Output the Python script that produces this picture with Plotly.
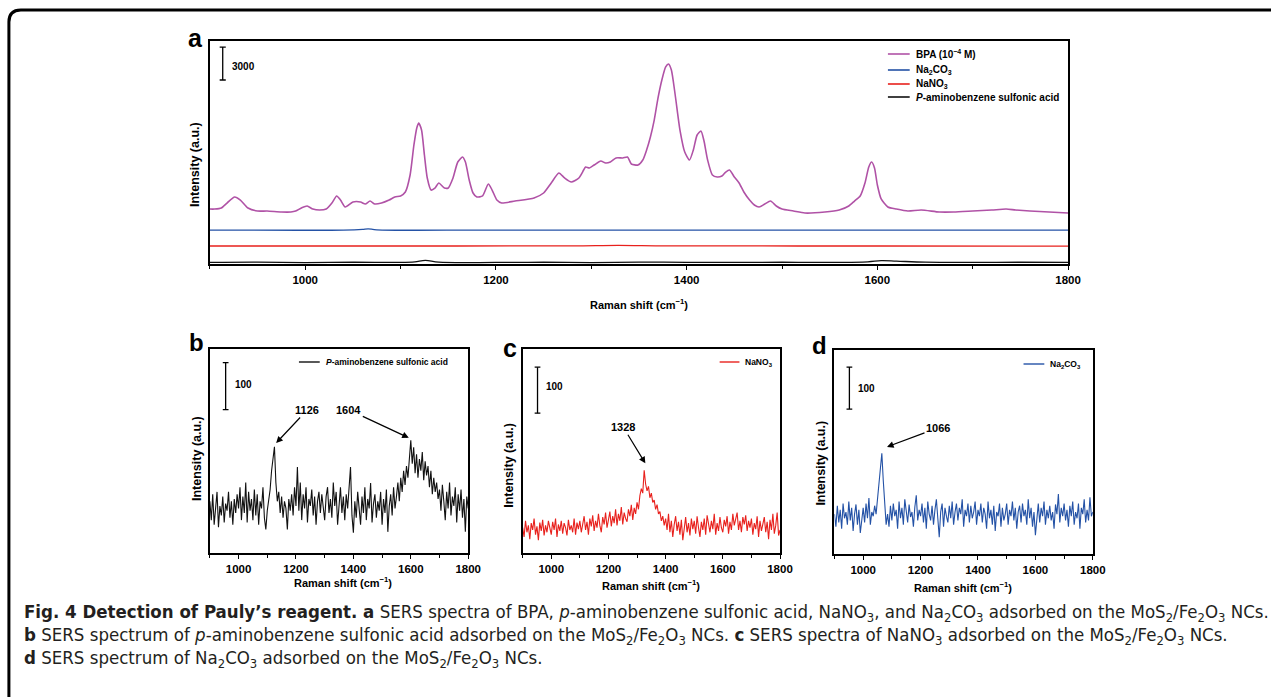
import plotly.graph_objects as go

W, H = 1284, 697

# ---------------- data ----------------
# Panel a (intensity, a.u.)
bpa_x = [900, 905, 912, 918, 926, 932, 940, 950, 960, 975, 985, 990, 996, 1002, 1008, 1015, 1022, 1028,
         1033, 1037, 1042, 1050, 1058, 1063, 1068, 1073, 1080, 1088, 1094, 1100, 1105, 1110, 1114, 1117,
         1119, 1122, 1125, 1128, 1132, 1136, 1140, 1146, 1150, 1155, 1160, 1165, 1168, 1172, 1176, 1180,
         1186, 1192, 1196, 1201, 1206, 1220, 1240, 1250, 1258, 1266, 1272, 1279, 1287, 1292, 1294, 1298,
         1303, 1310, 1315, 1320, 1326, 1333, 1338, 1342, 1349, 1354, 1358, 1362, 1366, 1370, 1374, 1378,
         1381, 1384, 1388, 1393, 1398, 1403, 1407, 1411, 1415, 1418, 1422, 1427, 1432, 1437, 1441, 1445,
         1450, 1455, 1460, 1466, 1471, 1476, 1482, 1488, 1494, 1500, 1512, 1524, 1545, 1560, 1570, 1576,
         1582, 1587, 1591, 1594, 1597, 1600, 1604, 1611, 1620, 1632, 1646, 1665, 1680, 1700, 1720, 1735,
         1745, 1760, 1780, 1800]
bpa_y = [5000, 5000, 5100, 5550, 6100, 5820, 5100, 4820, 4820, 4730, 4730, 4820, 5100, 5280, 5000, 4910, 5000, 5550,
         6190, 5820, 5190, 5640, 5640, 5460, 5730, 5460, 5550, 5820, 6100, 6190, 6550, 8100, 10830, 12380,
         12830, 12190, 9920, 7830, 6730, 6900, 7370, 6920, 6920, 7830, 9280, 9740, 9280, 7640, 6460, 6100,
         6190, 7280, 6730, 5820, 5550, 5730, 6010, 6460, 7370, 8280, 7830, 7460, 7830, 8550, 8830, 8740,
         9010, 9370, 9190, 9280, 9650, 9650, 9740, 9100, 9010, 9460, 10370, 11560, 13100, 15110, 16740, 17930,
         18200, 17650, 15380, 12190, 10190, 9460, 10370, 11740, 12100, 11280, 9460, 8100, 7920, 8010, 8370, 8550,
         7920, 7370, 6550, 5820, 5370, 5190, 5460, 5730, 5280, 5000, 4820, 4640, 4730, 4910, 5280, 5730,
         6190, 7370, 8830, 9280, 8740, 7190, 5920, 5190, 5000, 4820, 4910, 4730, 4730, 4820, 4910, 5000,
         4910, 4820, 4730, 4640]

na2co3_a_x = [900, 1040, 1060, 1066, 1075, 1200, 1500, 1800]
na2co3_a_y = [3090, 3090, 3150, 3200, 3110, 3090, 3090, 3080]
nano3_a_x = [900, 1100, 1280, 1328, 1380, 1600, 1800]
nano3_a_y = [1640, 1640, 1650, 1700, 1650, 1640, 1630]
pabsa_a_x = [900, 950, 1000, 1050, 1100, 1115, 1126, 1140, 1200, 1250, 1300, 1350, 1400, 1450, 1500,
             1550, 1590, 1604, 1620, 1650, 1700, 1750, 1800]
pabsa_a_y = [150, 170, 130, 160, 150, 200, 330, 170, 140, 160, 130, 170, 150, 140, 160,
             150, 200, 300, 260, 170, 150, 160, 140]

# Panels b-d: sampled every 5 cm-1 from 900 to 1800
shift = list(range(900, 1805, 5))
pabsa_y = [110, 70, 125, 60, 95, 130, 55, 100, 80, 120, 65, 105, 90, 130, 75, 110, 60, 115, 85, 125,
           95, 140, 70, 120, 85, 150, 65, 130, 90, 115, 70, 135, 80, 125, 60, 110, 95, 140, 75, 50,
           90, 110, 135, 175, 205, 226, 150, 110, 130, 85, 120, 75, 110, 95, 50, 115, 90, 125, 80, 140,
           100, 183, 90, 150, 70, 125, 95, 140, 65, 115, 100, 135, 80, 120, 60, 110, 130, 85, 125, 95,
           70, 120, 140, 85, 115, 75, 150, 100, 130, 60, 110, 140, 85, 120, 70, 125, 95, 145, 183, 80,
           43, 110, 75, 130, 90, 60, 120, 85, 140, 70, 115, 95, 149, 65, 105, 125, 75, 110, 90, 130,
           60, 115, 85, 135, 45, 100, 125, 80, 140, 95, 120, 150, 110, 160, 130, 175, 145, 185, 160, 200,
           240, 190, 225, 170, 210, 160, 200, 175, 215, 155, 195, 165, 185, 140, 175, 125, 160, 130, 150, 115,
           135, 90, 145, 110, 70, 130, 95, 150, 80, 120, 100, 140, 65, 125, 90, 135, 75, 115, 45, 120,
           95]
nano3_y = [55, 35, 70, 45, 60, 30, 65, 50, 75, 40, 58, 28, 66, 48, 72, 38, 60, 45, 70, 52,
           40, 68, 50, 75, 35, 62, 48, 70, 42, 65, 55, 38, 72, 50, 60, 45, 75, 40, 66, 52,
           70, 45, 62, 80, 50, 68, 40, 75, 58, 82, 48, 70, 55, 85, 60, 45, 78, 62, 88, 55,
           72, 90, 58, 80, 65, 95, 60, 85, 70, 100, 62, 88, 75, 68, 95, 80, 105, 72, 98, 85,
           110, 95, 125, 140, 130, 180, 150, 135, 145, 120, 130, 110, 115, 95, 105, 85, 90, 70, 80, 60,
           75, 50, 85, 45, 70, 35, 62, 80, 48, 68, 40, 72, 28, 60, 78, 45, 65, 38, 75, 52,
           70, 42, 80, 55, 35, 68, 50, 75, 40, 82, 58, 45, 70, 52, 85, 40, 65, 48, 78, 55,
           45, 72, 58, 80, 42, 68, 50, 85, 60, 75, 88, 50, 70, 45, 78, 62, 82, 48, 70, 55,
           75, 40, 65, 52, 80, 35, 70, 48, 62, 78, 45, 68, 30, 72, 50, 85, 42, 60, 88, 38,
           50]
na2co3_y = [95, 65, 115, 75, 105, 60, 120, 85, 100, 70, 125, 80, 110, 55, 95, 118, 70, 105, 50, 90,
            110, 75, 120, 85, 133, 70, 100, 90, 115, 95, 135, 160, 195, 240, 175, 110, 70, 95, 65, 115,
            80, 120, 90, 105, 60, 125, 85, 110, 70, 130, 95, 75, 118, 88, 100, 65, 112, 140, 80, 105,
            90, 120, 75, 110, 60, 125, 95, 80, 115, 70, 105, 130, 85, 40, 100, 120, 65, 110, 90, 75,
            115, 85, 125, 70, 100, 120, 80, 110, 95, 130, 65, 105, 90, 120, 75, 115, 85, 100, 125, 70,
            105, 90, 120, 75, 110, 95, 60, 125, 85, 105, 70, 115, 55, 100, 90, 120, 65, 110, 80, 95,
            120, 70, 105, 90, 125, 80, 110, 60, 100, 115, 75, 120, 90, 105, 70, 130, 85, 110, 65, 100,
            45, 95, 120, 75, 110, 90, 125, 70, 105, 85, 115, 80, 100, 60, 118, 95, 143, 75, 110, 90,
            120, 80, 105, 65, 115, 90, 125, 70, 100, 85, 120, 60, 110, 95, 130, 75, 105, 80, 135, 90,
            100]

x_ticks = [1000, 1200, 1400, 1600, 1800]

PURPLE = "#B052A6"
BLUE = "#2452A6"
RED = "#E8211D"
BLACK = "#111111"

# ---------------- helpers (layout geometry) ----------------
def px(p):
    return p / W

def py(p):
    return 1 - p / H

fig = go.Figure()

# Panel a
fig.add_trace(go.Scatter(x=bpa_x, y=bpa_y, mode="lines", line=dict(color=PURPLE, width=1.6, shape="spline", smoothing=0.6),
                         xaxis="x", yaxis="y", showlegend=False))
fig.add_trace(go.Scatter(x=na2co3_a_x, y=na2co3_a_y, mode="lines", line=dict(color=BLUE, width=1.3, shape="spline"),
                         xaxis="x", yaxis="y", showlegend=False))
fig.add_trace(go.Scatter(x=nano3_a_x, y=nano3_a_y, mode="lines", line=dict(color=RED, width=1.3, shape="spline"),
                         xaxis="x", yaxis="y", showlegend=False))
fig.add_trace(go.Scatter(x=pabsa_a_x, y=pabsa_a_y, mode="lines", line=dict(color=BLACK, width=1.3, shape="spline"),
                         xaxis="x", yaxis="y", showlegend=False))
# Panels b, c, d
fig.add_trace(go.Scatter(x=shift, y=pabsa_y, mode="lines", line=dict(color=BLACK, width=1.1),
                         xaxis="x2", yaxis="y2", showlegend=False))
fig.add_trace(go.Scatter(x=shift, y=nano3_y, mode="lines", line=dict(color=RED, width=1.1),
                         xaxis="x3", yaxis="y3", showlegend=False))
fig.add_trace(go.Scatter(x=shift, y=na2co3_y, mode="lines", line=dict(color=BLUE, width=1.1),
                         xaxis="x4", yaxis="y4", showlegend=False))

tickfont = dict(family="Liberation Sans, Arial, sans-serif", size=11.5, color="black")

def xax(dom, anchor):
    return dict(domain=dom, anchor=anchor, range=[900, 1800], showline=True, mirror=True,
                linecolor="black", linewidth=1.5, ticks="outside", ticklen=4, tickwidth=1.2,
                tickcolor="black", tickvals=x_ticks, ticktext=[f"<b>{t}</b>" for t in x_ticks],
                tickfont=tickfont, showgrid=False, zeroline=False,
                minor=dict(dtick=100, tick0=900, ticks="outside", ticklen=3, tickcolor="black", tickwidth=1.2))

def yax(dom, anchor, top):
    return dict(domain=dom, anchor=anchor, range=[0, top], showline=True, mirror=True,
                linecolor="black", linewidth=1.5, ticks="", showticklabels=False,
                showgrid=False, zeroline=False)

fig.update_layout(
    width=W, height=H, margin=dict(l=0, r=0, t=0, b=0),
    paper_bgcolor="white", plot_bgcolor="white",
    xaxis=xax([px(212), px(1079)], "y"),
    yaxis=yax([py(264), py(41)], "x", 223 * 91),
    xaxis2=xax([px(212), px(473)], "y2"),
    yaxis2=yax([py(553), py(349)], "x2", 204 * 100 / 47),
    xaxis3=xax([px(528), px(788)], "y3"),
    yaxis3=yax([py(553), py(349)], "x3", 204 * 100 / 46),
    xaxis4=xax([px(843), px(1104)], "y4"),
    yaxis4=yax([py(554), py(350)], "x4", 204 * 100 / 42),
)

ann = []
shapes = []
bold = dict(family="Liberation Sans, Arial, sans-serif", color="black")

def text(x, y, s, size, xanchor="center", angle=0, xref="paper", yref="paper", font=None):
    f = dict(bold) if font is None else dict(font)
    f["size"] = size
    ann.append(dict(x=x, y=y, xref=xref, yref=yref, text=s, showarrow=False, xanchor=xanchor,
                    yanchor="middle", textangle=angle, font=f))

# Panel letters
text(px(197), py(38), "<b>a</b>", 25)
text(px(199), py(342), "<b>b</b>", 24)
text(px(515), py(348), "<b>c</b>", 25)
text(px(828), py(345), "<b>d</b>", 24)

# Axis titles
xt = "<b>Raman shift (cm<sup>−1</sup>)</b>"
text(px(646), py(304), xt, 11)
text(px(347), py(582), xt, 11)
text(px(658), py(585), xt, 11)
text(px(973), py(587), xt, 11)
yt = "<b>Intensity (a.u.)</b>"
text(px(197), py(165), yt, 12.5, angle=-90)
text(px(199), py(458), yt, 12.5, angle=-90)
text(px(514), py(465), yt, 12.5, angle=-90)
text(px(829), py(463), yt, 12.5, angle=-90)

# Legends (manual)
leg_a = [(54, PURPLE, "<b>BPA (10<sup>−4</sup> M)</b>"),
         (70, BLUE, "<b>Na<sub>2</sub>CO<sub>3</sub></b>"),
         (84, RED, "<b>NaNO<sub>3</sub></b>"),
         (97, BLACK, "<b><i>P</i>-aminobenzene sulfonic acid</b>")]
for yy, c, s in leg_a:
    shapes.append(dict(type="line", xref="paper", yref="paper", x0=px(897), x1=px(919), y0=py(yy), y1=py(yy),
                       line=dict(color=c, width=1.6)))
    text(px(923), py(yy), s, 10, xanchor="left")

for (x0, x1, yy, c, s) in [(302, 323, 362, BLACK, "<b><i>P</i>-aminobenzene sulfonic acid</b>"),
                           (727, 747, 362, RED, "<b>NaNO<sub>3</sub></b>"),
                           (1034, 1055, 364, BLUE, "<b>Na<sub>2</sub>CO<sub>3</sub></b>")]:
    shapes.append(dict(type="line", xref="paper", yref="paper", x0=px(x0), x1=px(x1), y0=py(yy), y1=py(yy),
                       line=dict(color=c, width=1.4)))
    text(px(x1 + 4), py(yy), s, 8.5, xanchor="left")

# Scale bars (drawn in data units)
def scalebar(xr, yr, xc, y0, length, cap, label, lx, ly, size):
    sb = dict(type="line", xref=xr, yref=yr, line=dict(color="black", width=1.3))
    shapes.append(dict(sb, x0=xc, x1=xc, y0=y0, y1=y0 + length))
    shapes.append(dict(sb, x0=xc - cap, x1=xc + cap, y0=y0, y1=y0))
    shapes.append(dict(sb, x0=xc - cap, x1=xc + cap, y0=y0 + length, y1=y0 + length))
    text(lx, ly, f"<b>{label}</b>", size, xanchor="left", xref=xr, yref=yr)

scalebar("x", "y", 913.5, 16744, 3000, 3.2, "3000", 921, 17930, 10)
scalebar("x2", "y2", 955, 305, 100, 10, "100", 979, 358, 10)
scalebar("x3", "y3", 952, 304, 100, 10, "100", 976, 362, 10)
scalebar("x4", "y4", 952, 345, 100, 10, "100", 976, 395, 10)

# Peak annotations with arrows
def peak(xr, yr, x, y, label, ax, ay):
    ann.append(dict(x=x, y=y, xref=xr, yref=yr, text=f"<b>{label}</b>", showarrow=True, arrowhead=2,
                    arrowsize=1.1, arrowwidth=1.2, arrowcolor="black", ax=ax, ay=ay, standoff=0,
                    font=dict(bold, size=11)))

peak("x2", "y2", 1131, 234, "1126", 31, -33)
peak("x2", "y2", 1593, 245, "1604", -60, -28)
peak("x3", "y3", 1329, 195, "1328", -22, -36)
peak("x4", "y4", 1083, 255, "1066", 51, -19)

# Caption
cap_font = dict(family="Liberation Sans Narrow, DejaVu Sans Condensed, Roboto, sans-serif", color="#231F20")
sub = lambda s: f"<sub>{s}</sub>"
mos = f"MoS{sub(2)}/Fe{sub(2)}O{sub(3)}"
lines = [
    f"<b>Fig. 4 Detection of Pauly’s reagent. a</b> SERS spectra of BPA, <i>p</i>-aminobenzene sulfonic acid, NaNO{sub(3)}, and Na{sub(2)}CO{sub(3)} adsorbed on the {mos} NCs.",
    f"<b>b</b> SERS spectrum of <i>p</i>-aminobenzene sulfonic acid adsorbed on the {mos} NCs. <b>c</b> SERS spectra of NaNO{sub(3)} adsorbed on the {mos} NCs.",
    f"<b>d</b> SERS spectrum of Na{sub(2)}CO{sub(3)} adsorbed on the {mos} NCs.",
]
for i, s in enumerate(lines):
    text(px(22), py(613 + 23 * i), s, 18.5, xanchor="left", font=cap_font)

# Outer rounded frame (left + top)
r = 12
path = (f"M {px(9)},{py(697)} L {px(9)},{py(10 + r)} Q {px(9)},{py(10)} {px(9 + r)},{py(10)} "
        f"L {px(1284)},{py(10)}")
shapes.append(dict(type="path", xref="paper", yref="paper", path=path, line=dict(color="black", width=3)))

fig.update_layout(annotations=ann, shapes=shapes)

page_fix = (
    "var gd=document.getElementById('{plot_id}');"
    "gd.style.display='block';"
    "var p=gd.parentElement; p.style.fontSize='0'; p.style.lineHeight='0'; p.style.height='697px'; p.style.overflow='hidden';"
    "document.documentElement.style.margin='0'; document.documentElement.style.padding='0';"
    "document.body.style.margin='0'; document.body.style.padding='0';"
    "document.body.style.height='697px'; document.body.style.overflow='hidden';"
    "document.documentElement.style.height='697px'; document.documentElement.style.overflow='hidden';"
)
fig.write_html("out.html", config={"displayModeBar": False}, post_script=page_fix)
